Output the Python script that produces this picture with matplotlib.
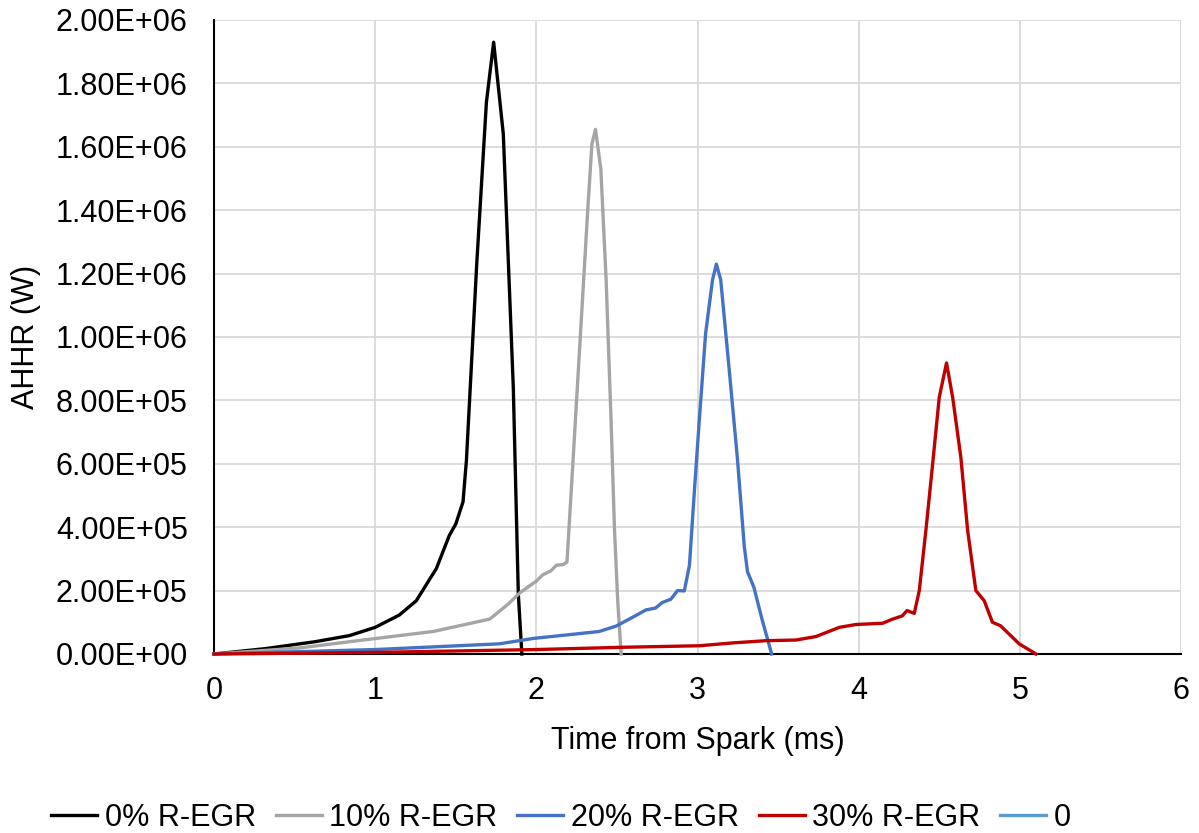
import matplotlib.pyplot as plt
from matplotlib.ticker import FuncFormatter, MultipleLocator

plt.rcParams['font.family'] = ['Liberation Sans', 'DejaVu Sans']

# AHHR traces vs time from spark, one per R-EGR level
t_0 = [0, 0.32, 0.63, 0.84, 1.0, 1.15, 1.255, 1.38, 1.46, 1.50, 1.545, 1.566, 1.63, 1.69,
       1.735, 1.795, 1.857, 1.888, 1.91]
hr_0 = [0, 1.7e4, 3.9e4, 5.8e4, 8.4e4, 1.23e5, 1.68e5, 2.7e5, 3.74e5, 4.1e5, 4.8e5, 6.1e5,
        1.23e6, 1.74e6, 1.93e6, 1.64e6, 8.4e5, 1.9e5, 0]

t_10 = [0, 0.53, 0.94, 1.36, 1.71, 1.82, 1.90, 2.0, 2.04, 2.09, 2.124, 2.165, 2.19, 2.216,
        2.268, 2.32, 2.345, 2.367, 2.40, 2.433, 2.464, 2.485, 2.505, 2.526]
hr_10 = [0, 1.9e4, 4.5e4, 7.1e4, 1.1e5, 1.55e5, 1.94e5, 2.3e5, 2.5e5, 2.62e5, 2.8e5, 2.82e5,
         2.9e5, 5.1e5, 9.6e5, 1.41e6, 1.61e6, 1.655e6, 1.53e6, 1.18e6, 7.3e5, 3.9e5, 1.67e5, 0]

t_20 = [0, 1.0, 1.77, 1.98, 2.186, 2.39, 2.495, 2.598, 2.68, 2.74, 2.78, 2.835, 2.876, 2.918,
        2.95, 2.98, 3.01, 3.05, 3.093, 3.117, 3.144, 3.196, 3.247, 3.29, 3.31, 3.35, 3.40, 3.46]
hr_20 = [0, 1.4e4, 3.2e4, 4.9e4, 6.0e4, 7.1e4, 8.8e4, 1.16e5, 1.39e5, 1.45e5, 1.62e5, 1.73e5,
         2.0e5, 1.99e5, 2.8e5, 5.1e5, 7.3e5, 1.01e6, 1.18e6, 1.23e6, 1.18e6, 9.0e5, 6.2e5,
         3.4e5, 2.6e5, 2.1e5, 1.1e5, 0]

t_30 = [0, 1.0, 2.0, 2.52, 3.012, 3.22, 3.426, 3.61, 3.735, 3.88, 3.983, 4.149, 4.21, 4.27,
        4.30, 4.345, 4.376, 4.417, 4.459, 4.50, 4.545, 4.583, 4.634, 4.676, 4.727, 4.779,
        4.83, 4.88, 4.996, 5.10]
hr_30 = [0, 5e3, 1.4e4, 2.1e4, 2.6e4, 3.5e4, 4.2e4, 4.4e4, 5.5e4, 8.4e4, 9.3e4, 9.7e4, 1.1e5,
         1.2e5, 1.37e5, 1.28e5, 2.0e5, 3.9e5, 6.0e5, 8.1e5, 9.18e5, 8.1e5, 6.2e5, 3.9e5,
         2.0e5, 1.68e5, 1.0e5, 8.9e4, 3.2e4, 0]

labels = ['0% R-EGR', '10% R-EGR', '20% R-EGR', '30% R-EGR', '0']
colors = ['#000000', '#A5A5A5', '#4472C4', '#C00000', '#5B9BD5']

fig = plt.figure(figsize=(11.99, 8.33), dpi=100)
ax = fig.add_axes([0.1785, 0.2149, 0.8065, 0.7611])

series = [(t_0, hr_0), (t_10, hr_10), (t_20, hr_20), (t_30, hr_30), ([], [])]
for (t, hr), lab, c in zip(series, labels, colors):
  # drawn above the spines so the zero stretches sit on the axis line
  ax.plot(t, hr, color=c, lw=2.4, label=lab, solid_joinstyle='round', zorder=3, clip_on=False)

ax.set_xlim(0, 6)
ax.set_ylim(0, 2.0e6)
ax.xaxis.set_major_locator(MultipleLocator(1))
ax.yaxis.set_major_locator(MultipleLocator(2.0e5))
ax.yaxis.set_major_formatter(FuncFormatter(lambda v, _: f'{v:.2E}'))
ax.grid(True, color='#D9D9D9', lw=1.3)
ax.set_axisbelow(True)
ax.tick_params(length=0, labelsize=22, colors='#000000')
ax.tick_params(axis='y', pad=19)
ax.tick_params(axis='x', pad=16)

for side in ['top', 'right']:
  ax.spines[side].set_visible(False)
for side in ['left', 'bottom']:
  ax.spines[side].set_color('#000000')
  ax.spines[side].set_linewidth(1.5)

ax.set_xlabel('Time from Spark (ms)', fontsize=22, labelpad=14)
ax.set_ylabel('AHHR (W)', fontsize=22, labelpad=10)

fig.legend(loc='center', bbox_to_anchor=(0.468, 0.018), ncol=5, frameon=False,
           fontsize=22, handlelength=1.5, handletextpad=0.25, columnspacing=0.65,
           borderpad=0, borderaxespad=0)

fig.savefig('out.png', dpi=100)
